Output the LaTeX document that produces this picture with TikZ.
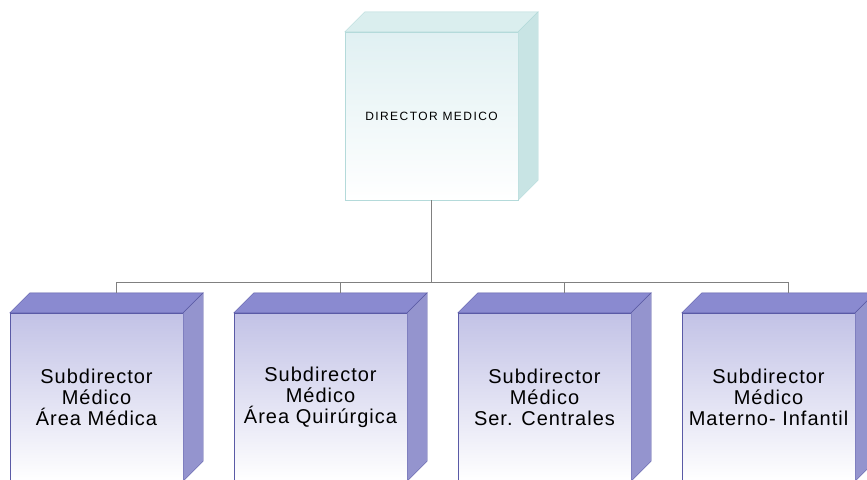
\documentclass[tikz,border=0pt]{standalone}
\usepackage{fontspec}
\setmainfont{Liberation Sans}
\newfontfamily\spacedfont[LetterSpace=12]{Liberation Sans}
\newfontfamily\subfont[LetterSpace=5]{Liberation Sans}
\definecolor{subedge}{HTML}{5A5AA6}
\definecolor{subtop}{HTML}{8A8AD0}
\definecolor{subside}{HTML}{9494CE}
\definecolor{subfront}{HTML}{C2C2E6}
\definecolor{diredge}{HTML}{B4DADA}
\definecolor{dirtop}{HTML}{DAEEEE}
\definecolor{dirside}{HTML}{C8E4E4}
\definecolor{dirfront}{HTML}{E0F0F2}
\tikzset{
  {director/.style} ={rectangle, draw=diredge, top color=dirfront, bottom color=white,
                      minimum width=173pt, minimum height=168pt, inner sep=0,
                      font=\spacedfont\fontsize{12}{14}\selectfont},
  {subdirector/.style} ={rectangle, draw=subedge, top color=subfront, bottom color=white,
                      minimum width=173pt, minimum height=168pt, align=center,
                      font=\subfont\fontsize{20}{21}\selectfont},
  {link/.style} ={draw=black!50, line width=0.9pt},
}
\begin{document}
\begin{tikzpicture}[x=1pt,y=-1pt]
\useasboundingbox (0,0) rectangle (867,479);
\clip (0,0) rectangle (867,479);
\node[director] (dir) at (431.5,116) {DIRECTOR MEDICO};
\node[subdirector] (s1) at (96.5,397) {Subdirector\\Médico\\Área Médica};
\node[subdirector] (s2) at (320.5,397) {Subdirector\\Médico\\Área Quirúrgica};
\node[subdirector] (s3) at (544.5,397) {Subdirector\\Médico\\Ser. Centrales};
\node[subdirector] (s4) at (768.5,397) {Subdirector\\Médico\\Materno- Infantil};
% faces of the boxes
\filldraw[draw=diredge, fill=dirtop] (dir.north west) -- ++(20,-20)
  -- ([shift={(20pt,20pt)}]dir.north east) -- (dir.north east) -- cycle;
\filldraw[draw=diredge, fill=dirside] (dir.north east) -- ++(20,-20)
  -- ([shift={(20pt,20pt)}]dir.south east) -- (dir.south east) -- cycle;
\foreach \s in {s1,s2,s3,s4}{
  \filldraw[draw=subedge, fill=subtop] (\s.north west) -- ++(20,-20)
    -- ([shift={(20pt,20pt)}]\s.north east) -- (\s.north east) -- cycle;
  \filldraw[draw=subedge, fill=subside] (\s.north east) -- ++(20,-20)
    -- ([shift={(20pt,20pt)}]\s.south east) -- (\s.south east) -- cycle;
}
% connectors
\draw[link] (dir.south) -- ++(0,82) coordinate (bus);
\foreach \s in {s1,s2,s3,s4}
  \draw[link] (bus) -| ([shift={(20pt,20pt)}]\s.north);
\end{tikzpicture}
\end{document}
